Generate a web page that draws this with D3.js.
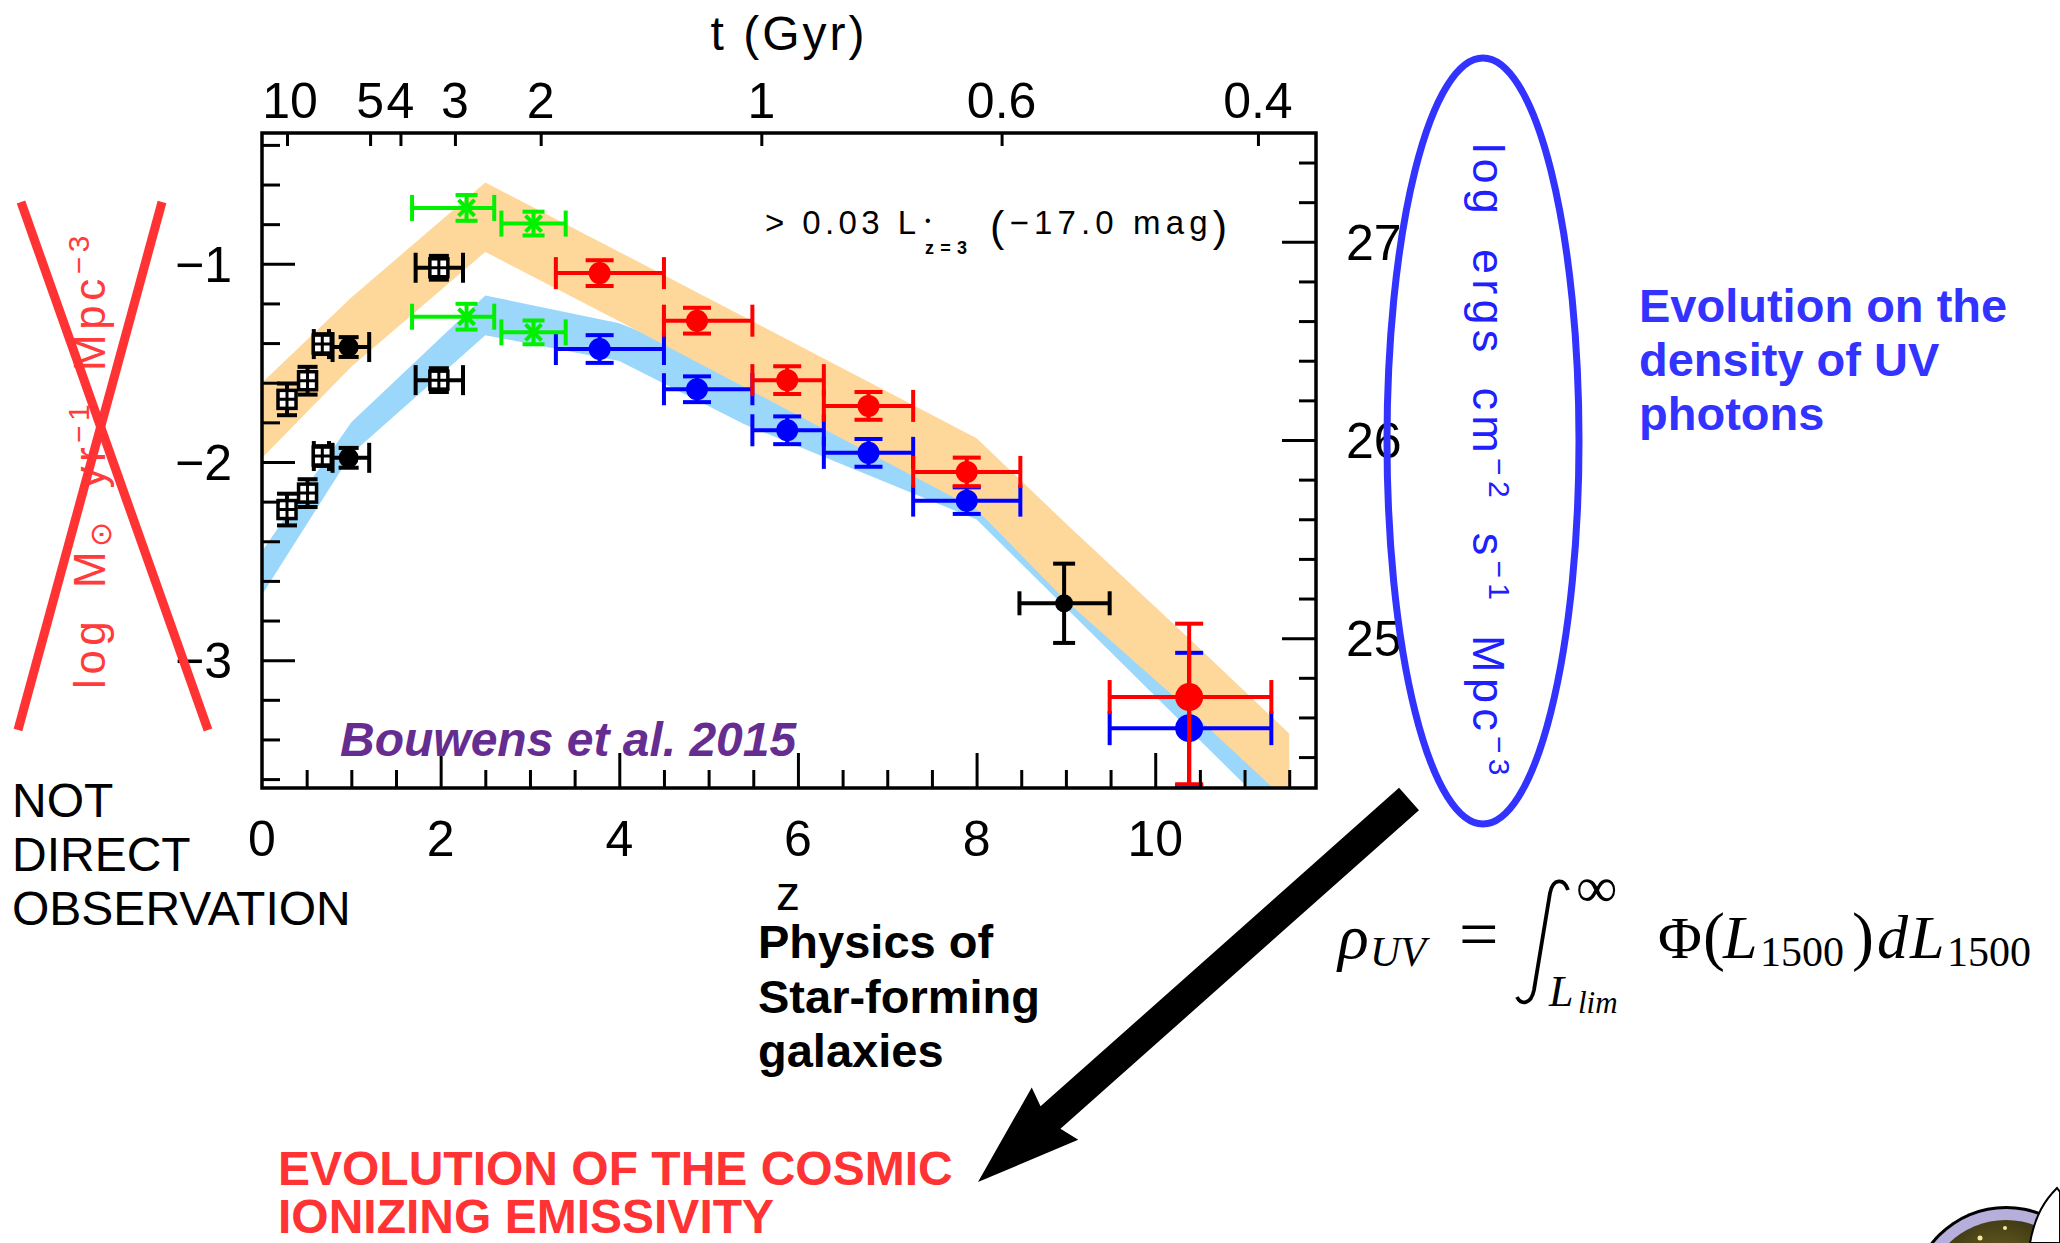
<!DOCTYPE html>
<html>
<head>
<meta charset="utf-8">
<script src="https://cdn.jsdelivr.net/npm/d3@7"></script>
<style>
  html, body { margin: 0; padding: 0; background: #ffffff; }
  svg { display: block; }
  text { font-family: "Liberation Sans", Arial, sans-serif; }
</style>
</head>
<body>
<svg id="chart" width="2060" height="1243"></svg>
<script>
// ---- data: log star-formation-rate density vs redshift ----
// Lyman-break samples: dust-corrected (red) and uncorrected (blue)
const lbgZ      = [3.78, 4.87, 5.88, 6.79, 7.89, 10.38];
const lbgZlo    = [3.29, 4.50, 5.49, 6.29, 7.29, 9.49];
const lbgZhi    = [4.50, 5.49, 6.29, 7.29, 8.49, 11.30];
const redSFR    = [-1.047, -1.287, -1.587, -1.717, -2.050, -3.186];
const redErrUp  = [0.065, 0.065, 0.070, 0.070, 0.072, 0.37];
const redErrDn  = [0.065, 0.065, 0.070, 0.070, 0.072, 0.44];
const blueSFR   = [-1.430, -1.633, -1.840, -1.954, -2.195, -3.343];
const blueErrUp = [0.070, 0.065, 0.070, 0.070, 0.067, 0.38];
const blueErrDn = [0.070, 0.065, 0.070, 0.070, 0.067, 0.29];

// z~2-3 samples (green): corrected and uncorrected
const greenZ     = [2.29, 3.04];
const greenZlo   = [1.68, 2.68];
const greenZhi   = [2.60, 3.40];
const greenUpper = [-0.718, -0.797];
const greenLower = [-1.267, -1.346];
const greenErr   = [0.065, 0.060];

// low-redshift samples (black)
const blackZ     = [0.28, 0.51, 0.675, 0.97, 1.98];
const blackZlo   = [null, null, 0.58, 0.79, 1.72];
const blackZhi   = [null, null, 0.75, 1.20, 2.25];
const blackUpper = [-1.684, -1.590, -1.405, -1.420, -1.020];
const blackLower = [-2.240, -2.157, -1.970, -1.979, -1.587];
const blackErr   = [0.080, 0.070, 0.050, 0.050, 0.060];
const blackKind  = ["square", "square", "square", "circle", "square"];

// single z~9 point
const midZ = [8.98], midZlo = [8.48], midZhi = [9.49], midSFR = [-2.713], midErr = [0.20];

// model bands
const orangeZ  = [0, 1.0, 2.5, 4.0, 8.0, 9.0, 10.4, 11.5];
const orangeHi = [-1.60, -1.17, -0.59, -0.94, -1.88, -2.31, -2.90, -3.37];
const orangeLo = [-1.98, -1.52, -0.94, -1.29, -2.24, -2.70, -3.26, -3.72];
const blueBandZ  = [0, 1.0, 2.5, 4.0, 5.4, 8.0, 11.5];
const blueBandHi = [-2.45, -1.80, -1.16, -1.30, -1.55, -2.10, -3.50];
const blueBandLo = [-2.67, -1.96, -1.36, -1.49, -1.81, -2.29, -3.85];

// axis ticks
const zMajor = [0, 2, 4, 6, 8, 10];
const sfrMajor = [-1, -2, -3];
const uvMajor = [25, 26, 27];
const uvOffset = 27.889;              // log rho_UV = log SFRD + offset
const ageLabels = ["10", "5", "4", "3", "2", "1", "0.6", "0.4"];
const ageZ      = [0.28, 1.21, 1.55, 2.16, 3.12, 5.59, 8.28, 11.15];

// ---- layout ----
const svg = d3.select("#chart");
const P = { left: 262, right: 1316, top: 133, bottom: 788 };
const x  = d3.scaleLinear().domain([0, 11.8]).range([P.left, P.right]);
const y  = d3.scaleLinear().domain([-3.645, -0.34]).range([P.bottom, P.top]);
const yR = d3.scaleLinear().domain([-3.645 + uvOffset, -0.34 + uvOffset]).range([P.bottom, P.top]);

const RED = "#ff0000", BLUE = "#0000ff", GREEN = "#00f000", BLACK = "#000000";

const defs = svg.append("defs");
defs.append("clipPath").attr("id", "plotClip")
  .append("rect").attr("x", P.left).attr("y", P.top)
  .attr("width", P.right - P.left).attr("height", P.bottom - P.top);

// ---- bands ----
const bands = svg.append("g").attr("clip-path", "url(#plotClip)");
const bandArea = d3.area().x(d => x(d.z)).y0(d => y(d.lo)).y1(d => y(d.hi));
bands.append("path")
  .datum(blueBandZ.map((z, i) => ({ z, lo: blueBandLo[i], hi: blueBandHi[i] })))
  .attr("d", bandArea).attr("fill", "#9ad7fb");
bands.append("path")
  .datum(orangeZ.map((z, i) => ({ z, lo: orangeLo[i], hi: orangeHi[i] })))
  .attr("d", bandArea).attr("fill", "#fed79b");

// ---- error bar helpers ----
const marks = svg.append("g").attr("clip-path", "url(#plotClip)");
function hBar(g, z0, z1, v, color, cap, w) {
  g.append("line").attr("x1", x(z0)).attr("x2", x(z1)).attr("y1", y(v)).attr("y2", y(v))
    .attr("stroke", color).attr("stroke-width", w);
  [z0, z1].forEach(zz => g.append("line").attr("x1", x(zz)).attr("x2", x(zz))
    .attr("y1", y(v) - cap).attr("y2", y(v) + cap).attr("stroke", color).attr("stroke-width", w));
}
function vBar(g, z, v0, v1, color, cap, w) {
  g.append("line").attr("x1", x(z)).attr("x2", x(z)).attr("y1", y(v0)).attr("y2", y(v1))
    .attr("stroke", color).attr("stroke-width", w);
  [v0, v1].forEach(vv => g.append("line").attr("x1", x(z) - cap).attr("x2", x(z) + cap)
    .attr("y1", y(vv)).attr("y2", y(vv)).attr("stroke", color).attr("stroke-width", w));
}

// Lyman-break points: blue first, red over it
function lbgSeries(vals, up, dn, color) {
  const g = marks.append("g");
  lbgZ.forEach((z, i) => {
    const big = z > 10;
    hBar(g, lbgZlo[i], lbgZhi[i], vals[i], color, big ? 17 : 16, 4);
    vBar(g, z, vals[i] - dn[i], vals[i] + up[i], color, 14, 4);
    g.append("circle").attr("cx", x(z)).attr("cy", y(vals[i])).attr("r", big ? 14 : 11).attr("fill", color);
  });
}
lbgSeries(blueSFR, blueErrUp, blueErrDn, BLUE);
lbgSeries(redSFR, redErrUp, redErrDn, RED);

// green points
function greenSeries(vals) {
  const g = marks.append("g");
  greenZ.forEach((z, i) => {
    hBar(g, greenZlo[i], greenZhi[i], vals[i], GREEN, 13, 4);
    vBar(g, z, vals[i] - greenErr[i], vals[i] + greenErr[i], GREEN, 11, 4);
    const cx = x(z), cy = y(vals[i]), s = 8;
    g.append("path")
      .attr("d", `M${cx - s},${cy - s}L${cx + s},${cy + s}M${cx + s},${cy - s}L${cx - s},${cy + s}`)
      .attr("stroke", GREEN).attr("stroke-width", 4);
  });
}
greenSeries(greenUpper);
greenSeries(greenLower);

// low-z black points
function blackSeries(vals) {
  const g = marks.append("g");
  blackZ.forEach((z, i) => {
    if (blackZlo[i] !== null) hBar(g, blackZlo[i], blackZhi[i], vals[i], BLACK, 15, 4);
    vBar(g, z, vals[i] - blackErr[i], vals[i] + blackErr[i], BLACK, 10, 4);
    const cx = x(z), cy = y(vals[i]);
    if (blackKind[i] === "circle") {
      g.append("circle").attr("cx", cx).attr("cy", cy).attr("r", 10).attr("fill", BLACK);
    } else {
      g.append("rect").attr("x", cx - 9).attr("y", cy - 9).attr("width", 18).attr("height", 18)
        .attr("fill", "#ffffff").attr("stroke", BLACK).attr("stroke-width", 3.5);
      g.append("path").attr("d", `M${cx - 9},${cy}H${cx + 9}M${cx},${cy - 9}V${cy + 9}`)
        .attr("stroke", BLACK).attr("stroke-width", 3);
    }
  });
}
blackSeries(blackUpper);
blackSeries(blackLower);

// z~9 point
{
  const g = marks.append("g");
  midZ.forEach((z, i) => {
    hBar(g, midZlo[i], midZhi[i], midSFR[i], BLACK, 12, 4);
    vBar(g, z, midSFR[i] - midErr[i], midSFR[i] + midErr[i], BLACK, 11, 4);
    g.append("circle").attr("cx", x(z)).attr("cy", y(midSFR[i])).attr("r", 9).attr("fill", BLACK);
  });
}

// ---- axes ----
function styleAxis(g) {
  g.select(".domain").remove();
  g.selectAll(".tick line").attr("stroke", "#000").attr("stroke-width", 3);
  g.selectAll(".tick text").remove();
}
const zMinor = d3.range(0.5, 11.75, 0.5).filter(v => v % 2 !== 0);
svg.append("g").attr("transform", `translate(0,${P.bottom})`)
  .call(d3.axisBottom(x).tickValues(zMajor.filter(v => v > 0)).tickSize(-35)).call(styleAxis);
svg.append("g").attr("transform", `translate(0,${P.bottom})`)
  .call(d3.axisBottom(x).tickValues(zMinor).tickSize(-18)).call(styleAxis);

const sfrMinor = d3.range(-3.6, -0.35, 0.2).map(v => +v.toFixed(1)).filter(v => !Number.isInteger(v));
svg.append("g").attr("transform", `translate(${P.left},0)`)
  .call(d3.axisLeft(y).tickValues(sfrMajor).tickSize(-33)).call(styleAxis);
svg.append("g").attr("transform", `translate(${P.left},0)`)
  .call(d3.axisLeft(y).tickValues(sfrMinor).tickSize(-18)).call(styleAxis);

const uvMinor = d3.range(24.4, 27.55, 0.2).map(v => +v.toFixed(1)).filter(v => !Number.isInteger(v));
svg.append("g").attr("transform", `translate(${P.right},0)`)
  .call(d3.axisRight(yR).tickValues(uvMajor).tickSize(-34)).call(styleAxis);
svg.append("g").attr("transform", `translate(${P.right},0)`)
  .call(d3.axisRight(yR).tickValues(uvMinor).tickSize(-17)).call(styleAxis);

svg.append("g").attr("transform", `translate(0,${P.top})`)
  .call(d3.axisTop(x).tickValues(ageZ).tickSize(-13)).call(styleAxis);

svg.append("rect").attr("x", P.left).attr("y", P.top)
  .attr("width", P.right - P.left).attr("height", P.bottom - P.top)
  .attr("fill", "none").attr("stroke", "#000").attr("stroke-width", 3.5);

// tick labels
const tickFont = 50;
svg.append("g").selectAll("text").data(zMajor).join("text")
  .attr("x", d => x(d)).attr("y", 856).attr("text-anchor", "middle")
  .attr("font-size", tickFont).text(d => d);
svg.append("g").selectAll("text").data(sfrMajor).join("text")
  .attr("x", 232).attr("y", d => y(d) + 18).attr("text-anchor", "end")
  .attr("font-size", tickFont).text(d => "\u2212" + Math.abs(d));
svg.append("g").selectAll("text").data(uvMajor).join("text")
  .attr("x", 1346).attr("y", d => yR(d) + 18).attr("text-anchor", "start")
  .attr("font-size", tickFont).text(d => d);
svg.append("g").selectAll("text").data(ageLabels).join("text")
  .attr("x", (d, i) => x(ageZ[i]) + (i === 0 ? 3 : 0)).attr("y", 118).attr("text-anchor", "middle")
  .attr("font-size", tickFont).text(d => d);

// axis titles
svg.append("text").attr("x", 789).attr("y", 50).attr("text-anchor", "middle")
  .attr("font-size", 48).attr("letter-spacing", 3).text("t (Gyr)");
svg.append("text").attr("x", 788).attr("y", 910).attr("text-anchor", "middle")
  .attr("font-size", 48).text("z");

// luminosity limit note: "> 0.03 L*_{z=3} (-17.0 mag)"
{
  svg.append("text").attr("x", 765).attr("y", 234).attr("font-size", 33)
    .attr("textLength", 151).attr("lengthAdjust", "spacing").text("> 0.03 L");
  svg.append("text").attr("x", 925).attr("y", 226).attr("font-size", 16).text("\u2022");
  svg.append("text").attr("x", 925).attr("y", 254).attr("font-size", 18).attr("font-weight", "bold")
    .attr("textLength", 42).attr("lengthAdjust", "spacing").text("z=3");
  const t = svg.append("text").attr("x", 990).attr("y", 241).attr("font-size", 43)
    .attr("textLength", 237).attr("lengthAdjust", "spacing");
  t.append("tspan").text("(");
  t.append("tspan").attr("font-size", 33).attr("dy", -7).text("\u221217.0 mag");
  t.append("tspan").attr("dy", 7).text(")");
}

// left (crossed-out) axis title
{
  const t = svg.append("text").attr("transform", "translate(105,460) rotate(-90)")
    .attr("text-anchor", "middle").attr("font-size", 44).attr("fill", "#ff3b3b")
    .attr("letter-spacing", 4.5).attr("word-spacing", 12);
  t.append("tspan").text("log M");
  t.append("tspan").attr("font-size", 30).attr("dy", 6).text("\u2299");
  t.append("tspan").attr("dy", -6).text(" yr");
  t.append("tspan").attr("font-size", 30).attr("dy", -16).text("\u22121");
  t.append("tspan").attr("dy", 16).text(" Mpc");
  t.append("tspan").attr("font-size", 30).attr("dy", -16).text("\u22123");
}
svg.append("line").attr("x1", 21).attr("y1", 202).attr("x2", 208).attr("y2", 730)
  .attr("stroke", "#ff3333").attr("stroke-width", 9);
svg.append("line").attr("x1", 162).attr("y1", 202).attr("x2", 18).attr("y2", 730)
  .attr("stroke", "#ff3333").attr("stroke-width", 9);

// right axis title, circled
{
  const t = svg.append("text").attr("transform", "translate(1473,462) rotate(90)")
    .attr("text-anchor", "middle").attr("font-size", 45).attr("fill", "#2020ff")
    .attr("letter-spacing", 5.3).attr("word-spacing", 12);
  t.append("tspan").text("log ergs cm");
  t.append("tspan").attr("font-size", 30).attr("dy", -16).text("\u22122");
  t.append("tspan").attr("dy", 16).text(" s");
  t.append("tspan").attr("font-size", 30).attr("dy", -16).text("\u22121");
  t.append("tspan").attr("dy", 16).text(" Mpc");
  t.append("tspan").attr("font-size", 30).attr("dy", -16).text("\u22123");
}
svg.append("ellipse").attr("cx", 1483).attr("cy", 441).attr("rx", 96).attr("ry", 383)
  .attr("fill", "none").attr("stroke", "#3333ff").attr("stroke-width", 7);

// annotations
function lines(xp, ys, arr, size, color, weight, style) {
  arr.forEach((s, i) => svg.append("text").attr("x", xp).attr("y", ys[i]).attr("font-size", size)
    .attr("fill", color).attr("font-weight", weight).attr("font-style", style || "normal").text(s));
}
lines(1639, [322, 376, 430], ["Evolution on the", "density of UV", "photons"], 47, "#3333ff", "bold");
lines(12, [817, 871, 925], ["NOT", "DIRECT", "OBSERVATION"], 48, "#000", "normal");
lines(758, [958, 1013, 1067], ["Physics of", "Star-forming", "galaxies"], 47, "#000", "bold");
lines(278, [1185, 1233], ["EVOLUTION OF THE COSMIC", "IONIZING EMISSIVITY"], 48, "#ff3333", "bold");
lines(340, [756], ["Bouwens et al. 2015"], 48, "#662d91", "bold", "italic");

// arrow toward the emissivity note
{
  const tail = [1409, 799], tip = [978, 1182];
  const dx = tip[0] - tail[0], dy = tip[1] - tail[1], L = Math.hypot(dx, dy);
  const ux = dx / L, uy = dy / L, px = -uy, py = ux;
  const shaftW = 15, headW = 35, notchW = 15, headL = 103;
  const bx = tip[0] - ux * headL, by = tip[1] - uy * headL;
  const pts = [
    [tail[0] + px * shaftW, tail[1] + py * shaftW],
    [bx + px * notchW + ux * 6, by + py * notchW + uy * 6],
    [bx + px * headW, by + py * headW],
    tip,
    [bx - px * headW, by - py * headW],
    [bx - px * notchW + ux * 6, by - py * notchW + uy * 6],
    [tail[0] - px * shaftW, tail[1] - py * shaftW]
  ];
  svg.append("path").attr("d", "M" + pts.map(p => p.join(",")).join("L") + "Z").attr("fill", "#000");
}

// integral formula
{
  const serif = "'Liberation Serif', 'Times New Roman', serif";
  const f = svg.append("g").attr("fill", "#000");
  const put = (xp, yp, s, size, italic) => f.append("text").attr("x", xp).attr("y", yp)
    .attr("font-size", size).attr("font-style", italic ? "italic" : "normal")
    .style("font-family", serif).text(s);
  put(1338, 958, "\u03C1", 64, true);
  put(1370, 966, "UV", 42, true);
  put(1459, 958, "=", 70, false);
  f.append("path")
    .attr("d", "M1568,890 C1564,878 1553,878 1550,893 L1534,990 C1531,1005 1521,1005 1517,997")
    .attr("fill", "none").attr("stroke", "#000").attr("stroke-width", 3.8);
  put(1576, 907, "\u221E", 58, false);
  put(1549, 1006, "L", 44, true);
  put(1578, 1013, "lim", 31, true);
  put(1658, 958, "\u03A6", 60, false);
  put(1703, 958, "(", 66, false);
  put(1723, 958, "L", 62, true);
  put(1760, 966, "1500", 42, false);
  put(1852, 958, ")", 66, false);
  put(1877, 958, "d", 62, true);
  put(1910, 958, "L", 62, true);
  put(1947, 966, "1500", 42, false);
}

// corner emblem
{
  const rg = defs.append("radialGradient").attr("id", "skyGrad").attr("cx", "45%").attr("cy", "35%").attr("r", "60%");
  rg.append("stop").attr("offset", "0%").attr("stop-color", "#7a6d25");
  rg.append("stop").attr("offset", "100%").attr("stop-color", "#1d1c0a");
  svg.append("circle").attr("cx", 2006).attr("cy", 1302).attr("r", 96).attr("fill", "#000");
  svg.append("circle").attr("cx", 2006).attr("cy", 1302).attr("r", 93).attr("fill", "#b6afdc");
  svg.append("circle").attr("cx", 2006).attr("cy", 1302).attr("r", 82).attr("fill", "url(#skyGrad)");
  svg.append("circle").attr("cx", 1980).attr("cy", 1238).attr("r", 2.5).attr("fill", "#f6e9a0");
  svg.append("circle").attr("cx", 2005).attr("cy", 1228).attr("r", 2).attr("fill", "#f6e9a0");
  svg.append("path").attr("d", "M2030,1243 C2035,1215 2045,1200 2057,1188 L2060,1192 L2060,1243 Z")
    .attr("fill", "#ffffff").attr("stroke", "#000").attr("stroke-width", 2);
}
</script>
</body>
</html>
